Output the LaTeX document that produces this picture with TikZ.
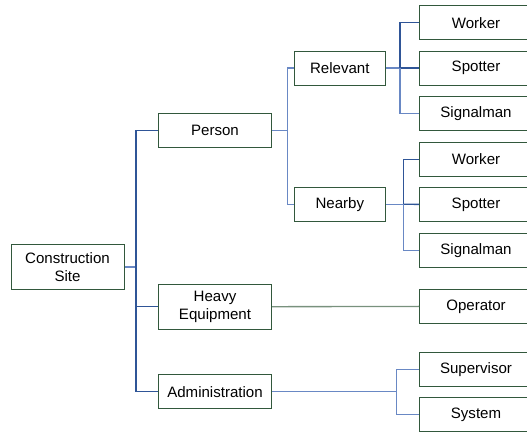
\documentclass[tikz,border=0pt]{standalone}
\usepackage{fontspec}
\setmainfont{Liberation Sans}
\definecolor{boxgreen}{RGB}{50,88,60}
\definecolor{darkline}{RGB}{47,85,151}
\definecolor{lightline}{RGB}{105,136,196}
\definecolor{greyline}{RGB}{120,145,125}
\tikzset{darkedge/.style={darkline,line width=1pt},
  lightedge/.style={lightline,line width=1pt}}

\begin{document}
\begin{tikzpicture}[x=0.75pt,y=-0.75pt,every node/.style={draw=boxgreen,line width=0.75pt,rectangle,minimum width=84.75pt,minimum height=25.5pt,align=center,inner sep=1pt,font=\fontsize{11.3}{13.7}\selectfont}]
\useasboundingbox (0,0) rectangle (527,432);
  \node (1) at (67.5,267)[minimum height=33.75pt]{Construction\\Site};
  \node (2) at (215,130.7){Person};
  \node (3) at (215,306.8)[minimum height=33.75pt]{Heavy\\Equipment};
  \node (4) at (215,391.7){Administration};
  \node (5) at (339.8,68)[minimum width=68.25pt]{Relevant};
  \node (6) at (339.8,204.3)[minimum width=68.25pt]{Nearby};
  \node (7) at (476,22.7){Worker};
  \node (8) at (476,68){Spotter};
  \node (9) at (476,113.7){Signalman};
  \node (10) at (476,159.2){Worker};
  \node (11) at (476,204.5){Spotter};
  \node (12) at (476,250.2){Signalman};
  \node (13) at (476,306.3){Operator};
  \node (14) at (476,369.3){Supervisor};
  \node (15) at (476,414.5){System};
  \coordinate (b1) at (136,267);
  \coordinate (b2) at (287.7,130.7);
  \coordinate (b3) at (400,68);
  \coordinate (b4) at (403.3,204.3);
  \coordinate (b5) at (396.7,391.7);
  \draw[lightedge](1)--(b1);
  \draw[darkedge](b1)|-(2);
  \draw[darkedge](b1)|-(3);
  \draw[darkedge](b1)|-(4);
  \draw[lightedge](2)--(b2);
  \draw[lightedge](b2)|-(5);
  \draw[lightedge](b2)|-(6);
  \draw[lightedge](5)--(b3);
  \draw[darkedge](b3)|-(7);
  \draw[darkedge](b3)--(8);
  \draw[lightedge](b3)|-(9);
  \draw[lightedge](6)--(b4);
  \draw[darkedge](b4)|-(10);
  \draw[darkedge](b4)--(11);
  \draw[lightedge](b4)|-(12);
  \draw[greyline,line width=1pt](3)--(13);
  \draw[lightedge](4)--(b5);
  \draw[lightedge](b5)|-(14);
  \draw[lightedge](b5)|-(15);
\end{tikzpicture}
\end{document}
